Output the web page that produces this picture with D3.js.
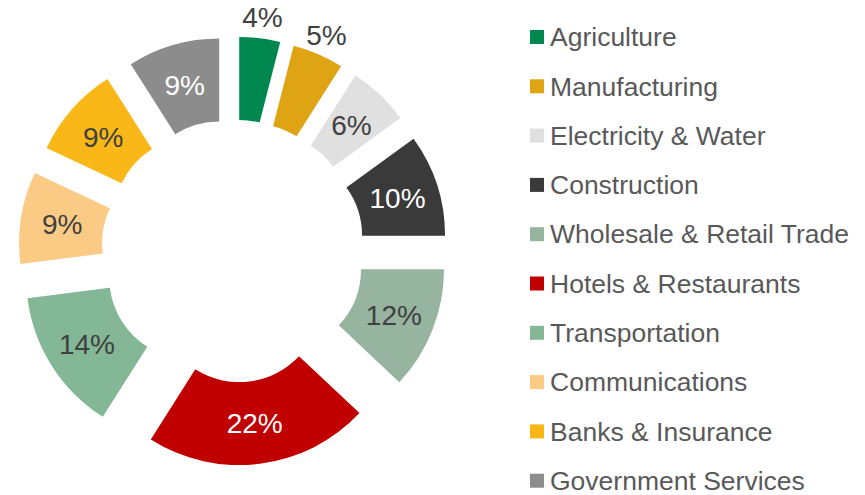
<!DOCTYPE html>
<html>
<head>
<meta charset="utf-8">
<script src="https://cdn.jsdelivr.net/npm/d3@7"></script>
<style>
  body { margin: 0; background: #fff; }
  svg { font-family: "Liberation Sans", Arial, sans-serif; }
</style>
</head>
<body>
<div id="chart"></div>
<script>
// sectors, in clockwise order from 12 o'clock
var sectors = ["Agriculture", "Manufacturing", "Electricity & Water", "Construction",
  "Wholesale & Retail Trade", "Hotels & Restaurants", "Transportation",
  "Communications", "Banks & Insurance", "Government Services"];
var shares = [4, 5, 6, 10, 12, 22, 14, 9, 9, 9];
var colors = ["#00864f", "#dfa414", "#e0e0e0", "#3a3a3a", "#96b4a0",
  "#c00000", "#83b796", "#fbcb86", "#f9b817", "#8c8c8c"];
var labelColors = ["#404040", "#404040", "#404040", "#ffffff", "#404040",
  "#ffffff", "#404040", "#404040", "#404040", "#ffffff"];
// small slices get their label outside the ring
var outsideLabel = [true, true, false, false, false, false, false, false, false, false];

var width = 865, height = 495;
var cx = 233, cy = 251;
var outerR = 165, innerR = 82, explode = 49.5;

var svg = d3.select("#chart").append("svg")
    .attr("width", width)
    .attr("height", height);

var pie = d3.pie().sort(null).value(function(d) { return d; });
var arcs = pie(shares);

var arc = d3.arc().innerRadius(innerR).outerRadius(outerR);
var outerLabelArc = d3.arc().innerRadius(outerR + 21).outerRadius(outerR + 21);

function offset(d) {
    var a = (d.startAngle + d.endAngle) / 2;
    return [cx + explode * Math.sin(a), cy - explode * Math.cos(a)];
}

var slices = svg.append("g").selectAll("g")
    .data(arcs)
    .enter().append("g")
    .attr("transform", function(d) {
        var o = offset(d);
        return "translate(" + o[0] + "," + o[1] + ")";
    });

slices.append("path")
    .attr("d", arc)
    .attr("fill", function(d, i) { return colors[i]; });

slices.append("text")
    .attr("transform", function(d, i) {
        var c = outsideLabel[i] ? outerLabelArc.centroid(d) : arc.centroid(d);
        return "translate(" + c[0] + "," + c[1] + ")";
    })
    .attr("text-anchor", "middle")
    .attr("dy", "0.36em")
    .style("font-size", "28px")
    .attr("fill", function(d, i) { return labelColors[i]; })
    .text(function(d) { return d.data + "%"; });

// legend
var legend = svg.append("g").selectAll("g")
    .data(sectors)
    .enter().append("g")
    .attr("transform", function(d, i) { return "translate(530," + (37 + i * 49.3) + ")"; });

legend.append("rect")
    .attr("x", 0)
    .attr("y", -7)
    .attr("width", 14)
    .attr("height", 14)
    .attr("fill", function(d, i) { return colors[i]; });

legend.append("text")
    .attr("x", 20)
    .attr("dy", "0.35em")
    .style("font-size", "26.5px")
    .attr("fill", "#595959")
    .text(function(d) { return d; });
</script>
</body>
</html>
